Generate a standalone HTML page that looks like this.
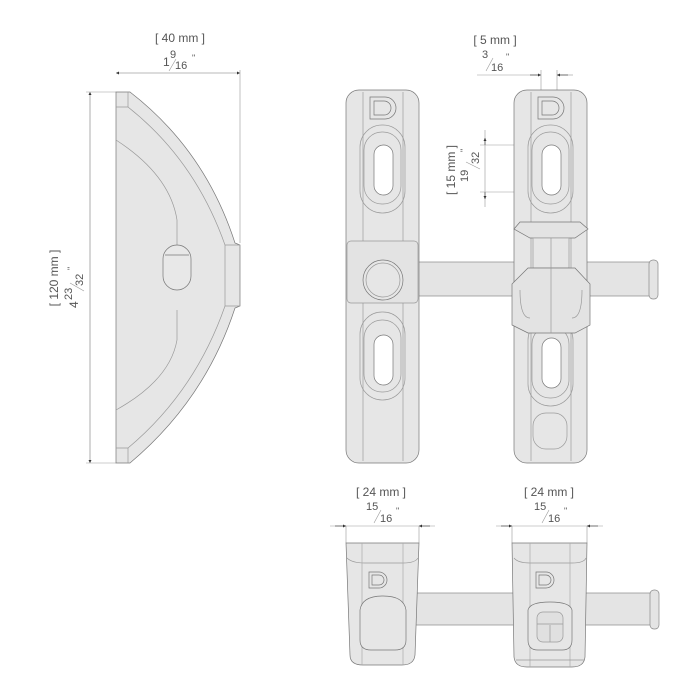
<!DOCTYPE html>
<html><head><meta charset="utf-8"><style>
html,body{margin:0;padding:0;background:#fff}
svg{display:block}
text{font-family:"Liberation Sans",sans-serif;fill:#555}
</style></head><body>
<svg width="700" height="700" viewBox="0 0 700 700" xmlns="http://www.w3.org/2000/svg">
<defs>
<marker id="a" viewBox="0 0 10 10" refX="10" refY="5" markerWidth="7" markerHeight="5" orient="auto-start-reverse"><path d="M0,0L10,5L0,10z" fill="#333"/></marker>
</defs>
<g stroke="#999" stroke-width="0.6" fill="none">
<line x1="116" y1="73" x2="240" y2="73" marker-start="url(#a)" marker-end="url(#a)" stroke="#777"/>
<line x1="240" y1="70" x2="240" y2="243"/>
<line x1="90" y1="92" x2="90" y2="463" marker-start="url(#a)" marker-end="url(#a)" stroke="#777"/>
<line x1="86" y1="92" x2="116" y2="92"/>
<line x1="86" y1="463" x2="116" y2="463"/>
<line x1="477" y1="75" x2="541" y2="75"/>
<line x1="557" y1="75" x2="573" y2="75"/>
<line x1="530" y1="75" x2="541" y2="75" marker-end="url(#a)" stroke="#333"/>
<line x1="568" y1="75" x2="557" y2="75" marker-end="url(#a)" stroke="#333"/>
<line x1="541" y1="70" x2="541" y2="120"/>
<line x1="557" y1="70" x2="557" y2="120"/>
<line x1="485" y1="130" x2="485" y2="207"/>
<line x1="485" y1="138" x2="485" y2="145" marker-start="url(#a)" stroke="#333"/>
<line x1="485" y1="192" x2="485" y2="199" marker-end="url(#a)" stroke="#333"/>
<line x1="480" y1="145" x2="535" y2="145"/>
<line x1="480" y1="192" x2="535" y2="192"/>
<line x1="330" y1="526" x2="435" y2="526"/>
<line x1="496" y1="526" x2="603" y2="526"/>
<line x1="335" y1="526" x2="346" y2="526" marker-end="url(#a)" stroke="#333"/>
<line x1="430" y1="526" x2="419" y2="526" marker-end="url(#a)" stroke="#333"/>
<line x1="501" y1="526" x2="512" y2="526" marker-end="url(#a)" stroke="#333"/>
<line x1="598" y1="526" x2="587" y2="526" marker-end="url(#a)" stroke="#333"/>
<line x1="346" y1="526" x2="346" y2="543"/>
<line x1="419" y1="526" x2="419" y2="543"/>
<line x1="512" y1="526" x2="512" y2="543"/>
<line x1="587" y1="526" x2="587" y2="543"/>
</g>

<g stroke="#777" stroke-width="0.7" fill="#e6e6e6">
<path d="M116,92 L130,92 Q205,150 235,243 L240,245 L240,306 L235,308 Q205,400 130,463 L116,463 Z"/>
<path d="M116,107 L128,107 Q195,160 225,245 L225,306 Q195,392 128,448 L116,448" fill="none" stroke="#999"/>
<path d="M116,140 Q170,175 177,220 L177,250 M177,310 L177,340 Q170,380 116,410" fill="none" stroke="#999"/>
<rect x="163" y="245" width="28" height="45" rx="14" fill="#e8e8e8"/>
<line x1="165" y1="255" x2="189" y2="255"/>
<path d="M225,245 L240,245 M225,306 L240,306 M128,92 L128,107 M128,463 L128,448" fill="none" stroke="#999"/>
</g>

<g stroke="#888" stroke-width="0.7" fill="#e4e4e4">
<rect x="415" y="262" width="238" height="34"/>
<rect x="649" y="260" width="9" height="39" rx="4"/>
<rect x="415" y="593" width="238" height="32"/>
<rect x="650" y="590" width="9" height="39" rx="4"/>
</g>

<g stroke="#777" stroke-width="0.7" fill="#e6e6e6">
<rect x="346" y="90" width="73" height="373" rx="13"/>
<g fill="none" stroke="#9a9a9a">
<line x1="363" y1="92" x2="363" y2="461"/><line x1="403" y1="92" x2="403" y2="461"/>
<rect x="360" y="125" width="45" height="88" rx="22"/>
<rect x="364" y="132" width="37" height="72" rx="18"/>
<rect x="360" y="312" width="45" height="88" rx="22"/>
<rect x="364" y="320" width="37" height="72" rx="18"/>
</g>
<rect x="374" y="145" width="19" height="50" rx="9.5" fill="#fff"/>
<rect x="374" y="335" width="19" height="50" rx="9.5" fill="#fff"/>
<rect x="347" y="241" width="71" height="62" rx="4" fill="#e3e3e3" stroke="#999"/>
<circle cx="383" cy="280" r="20"/>
<circle cx="383" cy="280" r="17" fill="none" stroke="#999"/>
<path d="M370,97 h15 a11,11 0 0 1 0,22 h-15 z M374,101 h10 a7,7 0 0 1 0,14 h-10 z" fill="none"/>
</g>

<g stroke="#777" stroke-width="0.7" fill="#e6e6e6">
<rect x="514" y="90" width="73" height="373" rx="13"/>
<g fill="none" stroke="#9a9a9a">
<line x1="531" y1="92" x2="531" y2="461"/><line x1="571" y1="92" x2="571" y2="461"/>
<rect x="528" y="125" width="45" height="88" rx="22"/>
<rect x="532" y="132" width="37" height="72" rx="18"/>
<rect x="528" y="318" width="45" height="88" rx="22"/>
<rect x="532" y="326" width="37" height="72" rx="18"/>
<rect x="533" y="413" width="34" height="36" rx="13"/>
</g>
<rect x="542" y="145" width="19" height="50" rx="9.5" fill="#fff"/>
<rect x="542" y="338" width="19" height="50" rx="9.5" fill="#fff"/>
<path d="M514,229 L520,222 L580,222 L588,229 L575,238 L530,238 Z" fill="#e3e3e3"/>
<rect x="533" y="238" width="36" height="30" fill="#e6e6e6" stroke="#999"/>
<path d="M512,284 L528,268 L575,268 L590,284 L590,325 L575,333 L528,333 L512,325 Z" fill="#e3e3e3"/>
<path d="M520,290 Q520,318 530,318 M582,290 Q582,318 572,318" fill="none" stroke="#999"/>
<path d="M538,97 h15 a11,11 0 0 1 0,22 h-15 z M542,101 h10 a7,7 0 0 1 0,14 h-10 z" fill="none"/>
<line x1="551" y1="238" x2="551" y2="333" stroke="#999"/>
</g>

<g stroke="#777" stroke-width="0.7" fill="#e6e6e6">
<path d="M346,543 L419,543 L415,655 Q414,665 402,665 L363,665 Q350,665 350,655 Z"/>
<path d="M347,558 Q352,563 365,563 L403,563 Q415,563 418,558" fill="none" stroke="#999"/>
<line x1="362" y1="543" x2="362" y2="665" stroke="#aaa"/>
<line x1="403" y1="543" x2="403" y2="665" stroke="#aaa"/>
<path d="M360,640 L360,610 Q362,596 383,596 Q404,596 406,610 L406,640 Q406,650 395,650 L371,650 Q360,650 360,640Z"/>
<path d="M369,572 h10 a8,8 0 0 1 0,16 h-10 z M372,575 h7 a5,5 0 0 1 0,10 h-7 z" fill="none"/>
<path d="M512,543 L587,543 L585,657 Q584,667 572,667 L527,667 Q515,667 514,657 Z"/>
<path d="M514,558 Q518,563 530,563 L572,563 Q584,563 586,558" fill="none" stroke="#999"/>
<line x1="530" y1="543" x2="530" y2="667" stroke="#aaa"/>
<line x1="570" y1="543" x2="570" y2="667" stroke="#aaa"/>
<path d="M528,640 L528,610 Q530,602 550,602 Q570,602 572,610 L572,640 Q572,650 562,650 L538,650 Q528,650 528,640Z"/>
<rect x="537" y="612" width="26" height="30" rx="6" fill="#e0e0e0" stroke="#999"/>
<line x1="550" y1="625" x2="550" y2="642" stroke="#999"/>
<line x1="537" y1="624" x2="563" y2="624" stroke="#999"/>
<line x1="516" y1="660" x2="584" y2="660" stroke="#999"/>
<path d="M536,572 h10 a8,8 0 0 1 0,16 h-10 z M539,575 h7 a5,5 0 0 1 0,10 h-7 z" fill="none"/>
</g>

<g font-size="12">
<text x="180" y="42" text-anchor="middle">[ 40 mm ]</text>
<text x="163" y="66">1</text>
<text x="170" y="58" font-size="11">9</text>
<text x="175" y="69" font-size="11">16</text>
<text x="192" y="61" font-size="9">"</text>
<line x1="169" y1="71" x2="176" y2="59" stroke="#999" stroke-width="0.6"/>

<g transform="translate(58,278) rotate(-90)">
<text x="0" y="0" text-anchor="middle">[ 120 mm ]</text>
<text x="-30" y="20">4</text>
<text x="-22" y="14" font-size="11">23</text>
<text x="-8" y="25" font-size="11">32</text>
<text x="8" y="16" font-size="9">"</text>
<line x1="-13" y1="26" x2="-5" y2="12" stroke="#999" stroke-width="0.6"/>
</g>

<text x="495" y="44" text-anchor="middle">[ 5 mm ]</text>
<text x="482" y="58" font-size="11">3</text>
<text x="491" y="71" font-size="11">16</text>
<text x="506" y="60" font-size="9">"</text>
<line x1="486" y1="71" x2="493" y2="58" stroke="#999" stroke-width="0.6"/>

<g transform="translate(455,170) rotate(-90)">
<text x="0" y="0" text-anchor="middle">[ 15 mm ]</text>
<text x="-12" y="13" font-size="11">19</text>
<text x="6" y="24" font-size="11">32</text>
<text x="18" y="12" font-size="9">"</text>
<line x1="1" y1="25" x2="8" y2="11" stroke="#999" stroke-width="0.6"/>
</g>

<text x="381" y="496" text-anchor="middle">[ 24 mm ]</text>
<text x="366" y="510" font-size="11">15</text>
<text x="380" y="522" font-size="11">16</text>
<text x="396" y="514" font-size="9">"</text>
<line x1="374" y1="523" x2="381" y2="510" stroke="#999" stroke-width="0.6"/>
<text x="549" y="496" text-anchor="middle">[ 24 mm ]</text>
<text x="534" y="510" font-size="11">15</text>
<text x="548" y="522" font-size="11">16</text>
<text x="564" y="514" font-size="9">"</text>
<line x1="542" y1="523" x2="549" y2="510" stroke="#999" stroke-width="0.6"/>
</g>
</svg>
</body></html>
